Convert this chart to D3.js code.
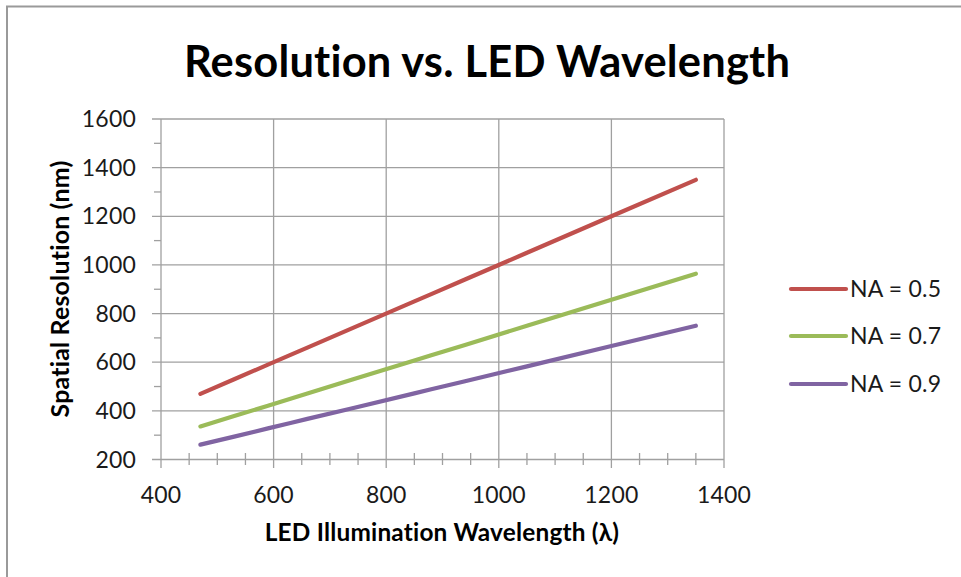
<!DOCTYPE html>
<html><head><meta charset="utf-8">
<script src="https://cdn.jsdelivr.net/npm/d3@7"></script>
<style>body{margin:0;background:#fff}svg{display:block}text{font-variant-ligatures:none;font-feature-settings:"liga" 0,"clig" 0,"dlig" 0,"calt" 0;letter-spacing:0.2px}</style>
</head><body>
<script>
const title = "Resolution vs. LED Wavelength";
const xLabel = "LED Illumination Wavelength (λ)";
const yLabel = "Spatial Resolution (nm)";
const wavelengths = [470, 530, 590, 630, 660, 740, 850, 880, 940, 1050, 1200, 1350];
const seriesNames = ["NA = 0.5", "NA = 0.7", "NA = 0.9"];
const na05 = [470, 530, 590, 630, 660, 740, 850, 880, 940, 1050, 1200, 1350];
const na07 = [336, 379, 421, 450, 471, 529, 607, 629, 671, 750, 857, 964];
const na09 = [261, 294, 328, 350, 367, 411, 472, 489, 522, 583, 667, 750];
const colors = ["#C0504D", "#9BBB59", "#8064A2"];
const xTicks = [400, 600, 800, 1000, 1200, 1400];
const yTicks = [200, 400, 600, 800, 1000, 1200, 1400, 1600];
const xMinor = d3.range(400, 1401, 50).filter(v => v % 200 !== 0);
const yMinor = d3.range(300, 1600, 200);

const W = 961, H = 577;
const svg = d3.select("body").append("svg").attr("width", W).attr("height", H);
svg.append("rect").attr("width", W).attr("height", H).attr("fill", "#fff");
svg.append("path").attr("d", `M7,${H+2}V6.5H${W+2}`).attr("fill", "none")
  .attr("stroke", "#9a9a9a").attr("stroke-width", 2);

const x = d3.scaleLinear().domain([400, 1400]).range([161, 724]);
const y = d3.scaleLinear().domain([200, 1600]).range([459.5, 119]);
const grid = "#a0a0a0";
const font = "Lato, 'Open Sans', sans-serif";

svg.append("g").selectAll("line").data(yTicks).join("line")
  .attr("x1", 152).attr("x2", x(1400)).attr("y1", d => y(d)).attr("y2", d => y(d))
  .attr("stroke", grid).attr("stroke-width", 1.3);
svg.append("g").selectAll("line").data(xTicks).join("line")
  .attr("x1", d => x(d)).attr("x2", d => x(d)).attr("y1", y(1600)).attr("y2", 468)
  .attr("stroke", grid).attr("stroke-width", 1.3);
svg.append("g").selectAll("line").data(xMinor).join("line")
  .attr("x1", d => x(d)).attr("x2", d => x(d)).attr("y1", 453).attr("y2", 465)
  .attr("stroke", grid).attr("stroke-width", 1.3);
svg.append("g").selectAll("line").data(yMinor).join("line")
  .attr("x1", 154).attr("x2", 161).attr("y1", d => y(d)).attr("y2", d => y(d))
  .attr("stroke", grid).attr("stroke-width", 1.3);

svg.append("g").selectAll("text").data(yTicks).join("text")
  .attr("x", 136).attr("y", d => y(d) + 8).attr("text-anchor", "end")
  .attr("font-family", font).attr("font-size", 23).attr("fill", "#1a1a1a")
  .text(d => d);
svg.append("g").selectAll("text").data(xTicks).join("text")
  .attr("x", d => x(d)).attr("y", 503).attr("text-anchor", "middle")
  .attr("font-family", font).attr("font-size", 23).attr("fill", "#1a1a1a")
  .text(d => d);

const allSeries = [na05, na07, na09];
const line = d3.line().x((d, i) => x(wavelengths[i])).y(d => y(d));
svg.append("g").selectAll("path").data(allSeries).join("path")
  .attr("d", d => line(d)).attr("fill", "none")
  .attr("stroke", (d, i) => colors[i]).attr("stroke-width", 4.2)
  .attr("stroke-linecap", "round").attr("stroke-linejoin", "round");

const legY = [289, 336, 384];
const leg = svg.append("g").selectAll("g").data(seriesNames).join("g");
leg.append("line").attr("x1", 791).attr("x2", 846)
  .attr("y1", (d, i) => legY[i]).attr("y2", (d, i) => legY[i])
  .attr("stroke", (d, i) => colors[i]).attr("stroke-width", 4.2).attr("stroke-linecap", "round");
leg.append("text").attr("x", 850).attr("y", (d, i) => legY[i] + 8)
  .attr("font-family", font).attr("font-size", 23).attr("fill", "#1a1a1a")
  .text(d => d);

function fit(sel, target) {
  const w = sel.node().getComputedTextLength();
  const fs = parseFloat(sel.attr("font-size"));
  sel.attr("font-size", fs * target / w);
}
const t = svg.append("text").attr("x", 487).attr("y", 77).attr("text-anchor", "middle")
  .attr("font-family", font).attr("font-weight", "bold").attr("font-size", 40).attr("fill", "#000")
  .text(title);
fit(t, 607);
const xl = svg.append("text").attr("x", 442).attr("y", 541).attr("text-anchor", "middle")
  .attr("font-family", font).attr("font-weight", "bold").attr("font-size", 20).attr("fill", "#000")
  .text(xLabel);
fit(xl, 356);
const yl = svg.append("text").attr("transform", "translate(69,289) rotate(-90)").attr("text-anchor", "middle")
  .attr("font-family", font).attr("font-weight", "bold").attr("font-size", 20).attr("fill", "#000")
  .text(yLabel);
fit(yl, 258);
</script>
</body></html>
